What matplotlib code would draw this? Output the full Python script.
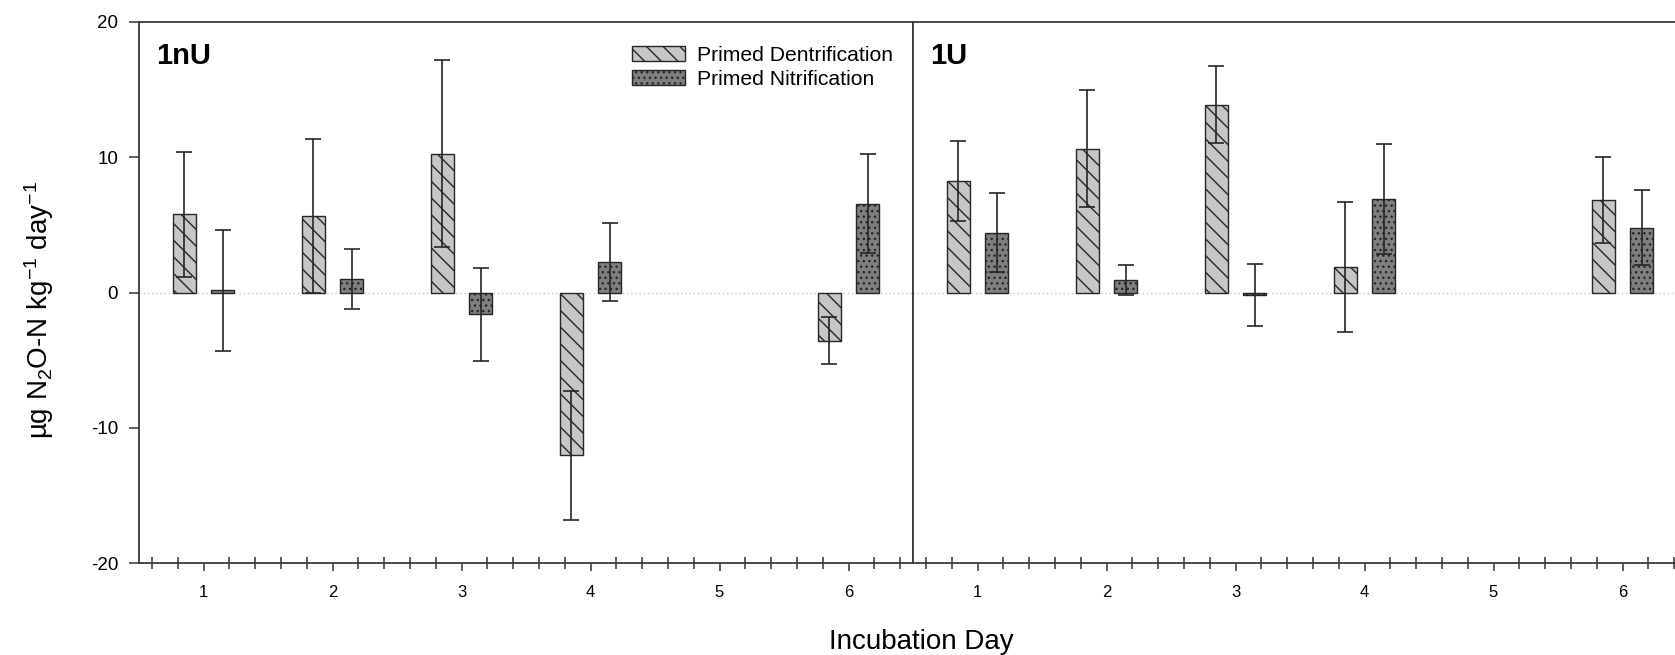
import matplotlib
matplotlib.use('Agg')
import matplotlib.pyplot as plt
import numpy as np
from matplotlib.ticker import MultipleLocator

plt.rcParams['font.family'] = ['Liberation Sans', 'DejaVu Sans']
plt.rcParams['mathtext.fontset'] = 'custom'
plt.rcParams['mathtext.rm'] = 'Liberation Sans'
plt.rcParams['mathtext.it'] = 'Liberation Sans:italic'
plt.rcParams['mathtext.bf'] = 'Liberation Sans:bold'
plt.rcParams['axes.unicode_minus'] = False
plt.rcParams['hatch.linewidth'] = 1.0

# ---- data ----
days = [1, 2, 3, 4, 6]

# 1nU panel
nu_denit = [5.77, 5.65, 10.27, -12.05, -3.55]
nu_denit_err = [4.6, 5.68, 6.9, 4.75, 1.75]
nu_nitr = [0.15, 0.99, -1.62, 2.27, 6.58]
nu_nitr_err = [4.5, 2.22, 3.42, 2.9, 3.67]

# 1U panel
u_denit = [8.25, 10.62, 13.9, 1.87, 6.85]
u_denit_err = [2.97, 4.33, 2.88, 4.8, 3.2]
u_nitr = [4.43, 0.95, -0.17, 6.9, 4.8]
u_nitr_err = [2.93, 1.1, 2.3, 4.07, 2.77]

labels = ['Primed Dentrification', 'Primed Nitrification']
panels = ['1nU', '1U']

DENIT_FC = '#c6c6c6'
NITR_FC = '#7f7f7f'
EDGE = '#262626'
OFF = 0.15
W = 0.18

fig = plt.figure(figsize=(16.75, 6.55), dpi=100)
ax1 = fig.add_axes([139/1675, 92/655, 774/1675, 541/655])
ax2 = fig.add_axes([913/1675, 92/655, 762/1675, 541/655], sharey=ax1)

def draw(ax, denit, denit_err, nitr, nitr_err, title):
    x = np.array(days, dtype=float)
    ax.axhline(0, color='#c8c8c8', lw=1.0, ls=(0, (1, 2)), zorder=0)
    b1 = ax.bar(x - OFF, denit, W, color=DENIT_FC, edgecolor=EDGE, lw=1.0,
                hatch='\\\\', label=labels[0], zorder=2)
    b2 = ax.bar(x + OFF, nitr, W, color=NITR_FC, edgecolor=EDGE, lw=1.0,
                hatch='...', label=labels[1], zorder=2)
    ax.errorbar(x - OFF, denit, yerr=denit_err, fmt='none', ecolor='#262626',
                elinewidth=1.2, capsize=5.5, capthick=1.2, zorder=3)
    ax.errorbar(x + OFF, nitr, yerr=nitr_err, fmt='none', ecolor='#262626',
                elinewidth=1.2, capsize=5.5, capthick=1.2, zorder=3)
    ax.set_ylim(-20, 20)
    ax.xaxis.set_major_locator(MultipleLocator(1))
    ax.xaxis.set_minor_locator(MultipleLocator(0.2))
    ax.tick_params(axis='x', which='major', direction='out', length=6,
                   width=1.1, color='#333', labelsize=12, pad=10)
    ax.tick_params(axis='x', which='minor', direction='inout', length=8,
                   width=1.1, color='#333')
    for s in ax.spines.values():
        s.set_color('#3a3a3a')
        s.set_linewidth(1.3)
    ax.text(0.022, 0.922, title, transform=ax.transAxes, fontsize=21,
            fontweight='bold', va='baseline', ha='left')
    return b1, b2

b1, b2 = draw(ax1, nu_denit, nu_denit_err, nu_nitr, nu_nitr_err, panels[0])
draw(ax2, u_denit, u_denit_err, u_nitr, u_nitr_err, panels[1])

ax1.set_xlim(0.5, 6.5)
ax2.set_xlim(0.5, 0.5 + 762/129)
ax2.spines['right'].set_visible(False)

ax1.yaxis.set_major_locator(MultipleLocator(10))
ax1.tick_params(axis='y', direction='out', length=7, width=1.1, color='#333',
                labelsize=13.5, pad=8)
ax2.tick_params(axis='y', left=False, labelleft=False)

fig.text(39/1675, 1 - 310/655, 'µg N$_2$O-N kg$^{-1}$ day$^{-1}$', rotation=90,
         ha='center', va='center', fontsize=20)
fig.text(921/1675, 1 - 649/655, 'Incubation Day', ha='center', va='baseline',
         fontsize=20)

fig.legend([b1, b2], labels, loc='upper left',
           bbox_to_anchor=(632/1675, 1 - 46/655), frameon=False, fontsize=15.2,
           handlelength=2.5, handleheight=0.72, handletextpad=0.6,
           labelspacing=0.25, borderpad=0, borderaxespad=0)

fig.savefig('out.png', dpi=100, facecolor='white')
